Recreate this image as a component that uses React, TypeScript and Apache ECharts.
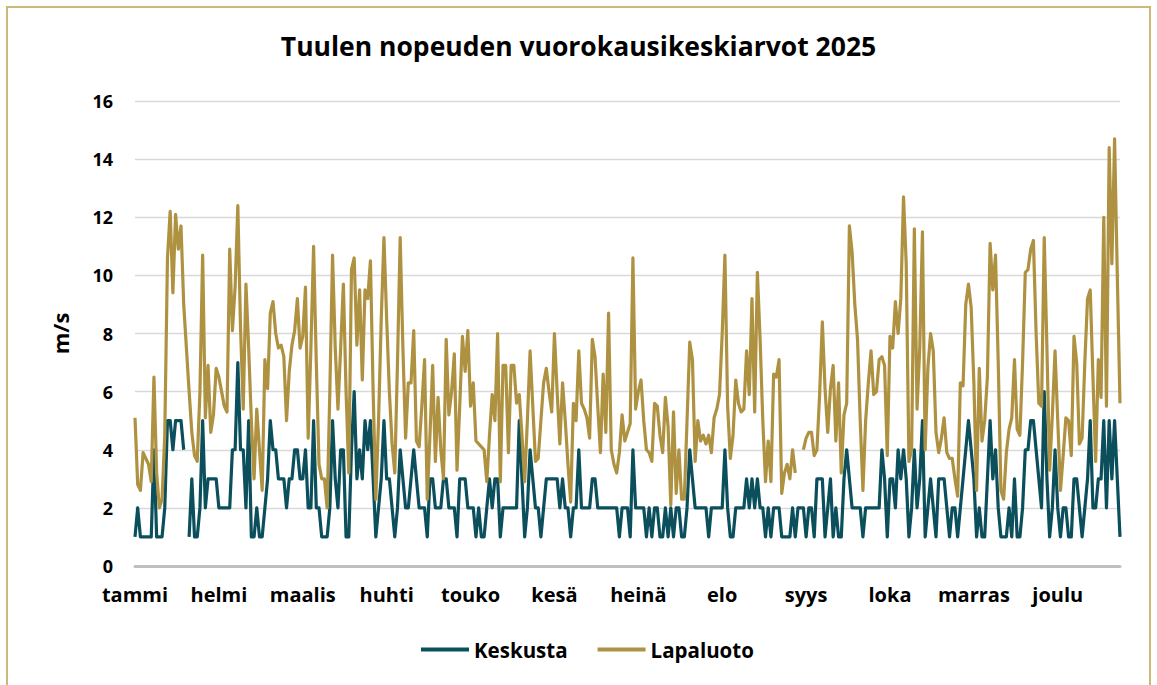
import React, { useEffect, useRef } from "react";
import * as echarts from "echarts";

const TITLE = "Tuulen nopeuden vuorokausikeskiarvot 2025";
const MONTH_NAMES = ["tammi", "helmi", "maalis", "huhti", "touko", "kesä", "heinä", "elo", "syys", "loka", "marras", "joulu"];
const Y_TICKS = [0, 2, 4, 6, 8, 10, 12, 14, 16];

// daily categories for 2025
const DAYS: string[] = [];
for (let m = 0; m < 12; m++) {
  const n = new Date(Date.UTC(2025, m + 1, 0)).getUTCDate();
  for (let d = 1; d <= n; d++) DAYS.push(`2025-${String(m + 1).padStart(2, "0")}-${String(d).padStart(2, "0")}`);
}

const KESKUSTA: (number | null)[] = [
  1, 2, 1, 1, 1, 1, 1, 4, 1, 1,
  1, 2, 5, 5, 4, 5, 5, 5, 4, null,
  1, 3, 1, 1, 2, 5, 2, 3, 3, 3,
  3, 2, 2, 2, 2, 2, 4, 4, 7, 4,
  4, 2, 5, 1, 1, 2, 1, 1, 2, 3,
  5, 4, 4, 3, 3, 3, 2, 3, 3, 4,
  4, 3, 3, 4, 2, 2, 5, 2, 2, 1,
  1, 1, 2, 5, 3, 2, 4, 4, 1, 1,
  4, 6, 3, 4, 3, 5, 4, 5, 3, 1,
  2, 3, 5, 3, 3, 2, 1, 2, 4, 3,
  2, 2, 3, 4, 3, 2, 2, 2, 1, 3,
  3, 2, 2, 2, 3, 3, 2, 2, 2, 1,
  3, 3, 3, 2, 2, 2, 1, 2, 1, 1,
  2, 3, 2, 3, 3, 1, 2, 2, 2, 2,
  2, 2, 5, 3, 1, 2, 4, 3, 2, 2,
  1, 2, 3, 3, 3, 3, 3, 2, 3, 2,
  2, 1, 2, 2, 4, 2, 2, 2, 2, 3,
  3, 2, 2, 2, 2, 2, 2, 2, 2, 1,
  2, 2, 2, 1, 4, 2, 2, 2, 2, 1,
  2, 1, 2, 2, 1, 1, 2, 1, 2, 1,
  2, 2, 1, 1, 2, 4, 3, 2, 2, 2,
  2, 2, 1, 2, 2, 2, 2, 2, 4, 2,
  1, 1, 2, 2, 2, 2, 3, 2, 3, 2,
  3, 2, 2, 1, 2, 1, 2, 2, 2, 1,
  1, 1, 1, 2, 1, 2, 2, 2, 1, 2,
  2, 1, 3, 3, 3, 1, 2, 3, 1, 2,
  1, 1, 3, 4, 3, 2, 2, 2, 2, 1,
  2, 2, 2, 2, 2, 2, 4, 3, 1, 3,
  3, 2, 4, 3, 4, 3, 1, 2, 4, 2,
  3, 5, 1, 2, 3, 2, 1, 3, 3, 3,
  2, 1, 2, 2, 1, 2, 3, 4, 5, 4,
  3, 1, 2, 1, 1, 3, 5, 3, 4, 2,
  1, 1, 1, 2, 1, 3, 1, 1, 2, 4,
  4, 5, 5, 4, 3, 2, 6, 3, 1, 2,
  4, 2, 1, 2, 2, 1, 1, 3, 3, 2,
  1, 2, 3, 5, 2, 2, 3, 3, 5, 2,
  5, 3, 5, 3, 1,
];

const LAPALUOTO: (number | null)[] = [
  5.1, 2.8, 2.6, 3.9, 3.7, 3.5, 2.9, 6.5, 3.2, 2.0,
  2.3, 4.5, 10.6, 12.2, 9.4, 12.1, 10.9, 11.7, 9.0, 7.5,
  6.0, 4.6, 3.8, 3.6, 6.0, 10.7, 5.1, 6.9, 4.6, 5.2,
  6.8, 6.5, 6.0, 5.5, 5.3, 10.9, 8.1, 9.6, 12.4, 8.2,
  5.4, 9.7, 7.5, 5.0, 3.0, 5.4, 4.0, 2.6, 7.1, 6.1,
  8.7, 9.1, 8.0, 7.5, 7.6, 7.2, 5.0, 6.7, 7.6, 8.1,
  9.2, 7.5, 7.9, 9.6, 4.4, 7.5, 11.0, 7.0, 3.5, 3.0,
  3.0, 2.0, 6.0, 10.7, 7.5, 5.4, 7.5, 9.7, 6.0, 3.2,
  10.2, 10.6, 7.6, 9.5, 6.4, 9.5, 9.2, 10.5, 6.0, 2.3,
  5.0, 8.5, 11.3, 8.5, 6.0, 4.2, 3.2, 7.0, 11.3, 7.5,
  4.4, 6.3, 6.3, 8.1, 4.3, 4.1, 5.5, 7.1, 2.3, 4.5,
  6.9, 3.6, 5.8, 4.0, 3.0, 7.8, 5.2, 6.0, 7.3, 3.3,
  5.5, 7.9, 6.7, 8.1, 5.5, 6.3, 4.3, 4.2, 4.1, 4.0,
  2.9, 4.5, 5.9, 5.0, 8.0, 2.9, 6.9, 6.9, 3.9, 6.9,
  6.9, 5.6, 5.9, 4.5, 2.9, 5.0, 7.4, 5.5, 3.6, 3.7,
  5.0, 6.3, 6.8, 6.0, 5.3, 8.0, 6.0, 4.2, 6.3, 5.0,
  3.5, 2.2, 5.6, 5.0, 7.4, 5.6, 5.4, 5.1, 4.4, 7.8,
  7.2, 5.5, 3.9, 6.6, 4.6, 8.7, 4.0, 3.5, 3.2, 3.9,
  5.2, 4.3, 4.6, 4.9, 10.6, 5.4, 6.0, 6.4, 5.0, 4.0,
  3.9, 3.6, 5.6, 5.5, 4.5, 3.9, 5.8, 4.8, 2.1, 5.3,
  2.5, 4.0, 2.3, 2.3, 5.0, 7.7, 7.1, 3.6, 5.0, 4.3,
  4.5, 4.2, 4.5, 3.9, 5.1, 5.4, 5.9, 8.0, 10.7, 5.5,
  3.7, 4.5, 6.4, 5.6, 5.3, 5.4, 7.4, 5.9, 9.2, 5.3,
  10.1, 7.8, 5.0, 2.9, 4.3, 2.9, 6.6, 6.5, 7.1, 2.5,
  3.2, 3.5, 3.0, 4.0, 3.2, null, null, 4.0, 4.4, 4.6,
  4.6, 3.8, 4.0, 5.9, 8.4, 6.1, 4.6, 6.1, 6.9, 4.3,
  6.3, 3.2, 5.2, 5.6, 11.7, 10.8, 9.0, 7.8, 5.0, 2.6,
  5.0, 6.3, 7.4, 5.9, 6.0, 7.1, 7.2, 6.9, 3.8, 7.9,
  7.5, 9.1, 8.0, 9.2, 12.7, 10.4, 3.6, 4.0, 11.6, 5.4,
  7.5, 11.5, 4.0, 6.8, 8.0, 7.4, 4.6, 3.9, 4.4, 5.1,
  3.9, 3.7, 3.7, 3.0, 2.4, 6.3, 6.2, 9.0, 9.7, 8.9,
  6.3, 2.6, 6.8, 4.3, 5.0, 6.5, 11.1, 9.5, 10.7, 7.0,
  2.6, 2.3, 3.9, 4.7, 5.1, 7.1, 4.7, 4.5, 7.0, 10.1,
  10.2, 10.9, 11.2, 8.0, 5.6, 5.5, 11.3, 7.5, 3.3, 5.2,
  7.4, 5.0, 2.6, 3.8, 5.1, 5.0, 3.8, 7.9, 7.0, 4.2,
  4.4, 7.0, 9.2, 9.5, 6.5, 3.6, 7.1, 5.8, 12.0, 5.5,
  14.4, 10.4, 14.7, 10.0, 5.6,
];

const SERIES_NAMES = ["Keskusta", "Lapaluoto"];
const COLORS = ["#0B4F5C", "#AF9241"];
const FONT = "'Open Sans', 'Noto Sans', sans-serif";

export default function App() {
  const ref = useRef<HTMLDivElement>(null);
  useEffect(() => {
    if (!ref.current) return;
    const chart = echarts.init(ref.current, undefined, { renderer: "svg" });
    chart.setOption({
      animation: false,
      backgroundColor: "transparent",
      textStyle: { fontFamily: FONT },
      title: {
        text: TITLE,
        left: "center",
        top: 27,
        textStyle: { fontSize: 26.5, fontWeight: "bold", color: "#000", fontFamily: FONT },
      },
      legend: {
        data: SERIES_NAMES,
        left: 416,
        top: 634,
        icon: "rect",
        itemWidth: 48,
        itemHeight: 4,
        itemGap: 30,
        textStyle: { fontSize: 20.5, fontWeight: "bold", color: "#000", fontFamily: FONT },
      },
      grid: { left: 135, right: 37, top: 101, bottom: 119 },
      xAxis: {
        type: "category",
        data: DAYS,
        boundaryGap: false,
        axisTick: { show: false },
        axisLine: { show: true, lineStyle: { color: "#BFBFBF", width: 3 } },
        axisLabel: {
          interval: 30,
          margin: 18,
          fontSize: 20,
          fontWeight: "bold",
          color: "#000",
          fontFamily: FONT,
          formatter: (v: string) => MONTH_NAMES[parseInt(v.slice(5, 7), 10) - 1],
        },
        splitLine: { show: false },
      },
      yAxis: {
        type: "value",
        min: Y_TICKS[0],
        max: Y_TICKS[Y_TICKS.length - 1],
        interval: 2,
        name: "m/s",
        nameLocation: "middle",
        nameGap: 64,
        nameTextStyle: { fontSize: 22, fontWeight: "bold", color: "#000", fontFamily: FONT },
        axisLine: { show: false },
        axisTick: { show: false },
        axisLabel: { margin: 22, fontSize: 18, fontWeight: "bold", color: "#000", fontFamily: FONT },
        splitLine: { lineStyle: { color: "#D9D9D9", width: 1.3 } },
      },
      series: [
        {
          name: SERIES_NAMES[0],
          type: "line",
          data: KESKUSTA,
          showSymbol: false,
          symbol: "none",
          connectNulls: false,
          lineStyle: { color: COLORS[0], width: 3.2, join: "round" },
          itemStyle: { color: COLORS[0] },
        },
        {
          name: SERIES_NAMES[1],
          type: "line",
          data: LAPALUOTO,
          showSymbol: false,
          symbol: "none",
          connectNulls: false,
          lineStyle: { color: COLORS[1], width: 3.2, join: "round" },
          itemStyle: { color: COLORS[1] },
        },
      ],
    });
    return () => chart.dispose();
  }, []);

  return (
    <div style={{ position: "absolute", left: 0, top: 0, width: 1157, height: 685, background: "#fff", overflow: "hidden" }}>
      <div
        style={{
          position: "absolute",
          left: 6,
          top: 6,
          width: 1145,
          height: 700,
          border: "2px solid #CDB877",
          boxSizing: "border-box",
        }}
      />
      <div ref={ref} style={{ position: "absolute", left: 0, top: 0, width: 1157, height: 685 }} />
    </div>
  );
}
